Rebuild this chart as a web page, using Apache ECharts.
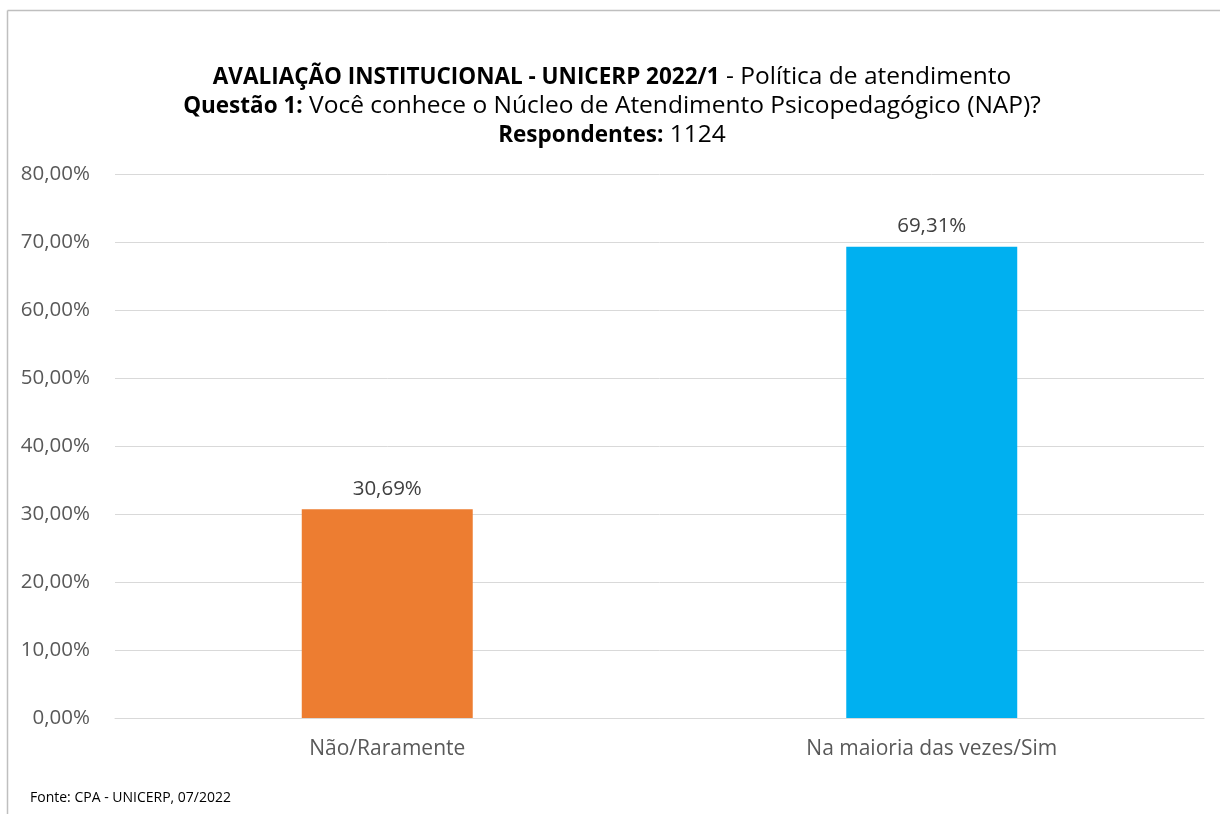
<!DOCTYPE html>
<html><head><meta charset="utf-8">
<script src="https://cdn.jsdelivr.net/npm/echarts@6/dist/echarts.min.js"></script>
<style>html,body{margin:0;padding:0;background:#fff}#c{width:1220px;height:814px}</style>
</head><body><div id="c"></div>
<script>
const categories = ['Não/Raramente', 'Na maioria das vezes/Sim'];
const values = [30.69, 69.31];
const barColors = ['#ED7D31', '#00B0F0'];
const yTicks = [0, 10, 20, 30, 40, 50, 60, 70, 80];

const FONT = '"Open Sans", sans-serif';
const fmt = v => v.toFixed(2).replace('.', ',') + '%';

const chart = echarts.init(document.getElementById('c'), null, {renderer: 'canvas'});
chart.setOption({
  animation: false,
  backgroundColor: '#ffffff',
  grid: {left: 115, right: 16, top: 174, bottom: 96, containLabel: false},
  xAxis: {
    type: 'category',
    data: categories,
    axisLine: {show: true, lineStyle: {color: '#d9d9d9', width: 1}},
    axisTick: {show: false},
    axisLabel: {color: '#595959', fontSize: 21, fontFamily: FONT, margin: 21}
  },
  yAxis: {
    type: 'value',
    min: yTicks[0],
    max: yTicks[yTicks.length - 1],
    interval: 10,
    axisLine: {show: false},
    axisTick: {show: false},
    splitLine: {lineStyle: {color: '#d9d9d9', width: 1}},
    axisLabel: {color: '#595959', fontSize: 20.5, fontFamily: FONT, margin: 25, formatter: v => fmt(v)}
  },
  series: [{
    type: 'bar',
    data: values.map((v, i) => ({value: v, itemStyle: {color: barColors[i]}})),
    barWidth: '31.4%',
    label: {
      show: true,
      position: 'top',
      distance: 10,
      color: '#404040',
      fontSize: 20.5,
      fontFamily: FONT,
      formatter: p => fmt(p.value)
    }
  }],
  graphic: [
    {type: 'line', shape: {x1: 7.5, y1: 10.5, x2: 1220, y2: 10.5}, style: {stroke: '#bfbfbf', lineWidth: 1.5}},
    {type: 'line', shape: {x1: 7.5, y1: 10.5, x2: 7.5, y2: 814}, style: {stroke: '#bfbfbf', lineWidth: 1.5}},
    {
      type: 'text', x: 612, y: 63,
      style: {
        text: '{b|AVALIAÇÃO INSTITUCIONAL - UNICERP 2022/1}{n| - Política de atendimento}\n{b|Questão 1:}{n| Você conhece o Núcleo de Atendimento Psicopedagógico (NAP)?}\n{b|Respondentes:}{n| 1124}',
        align: 'center',
        verticalAlign: 'top',
        font: '24px ' + FONT,
        fill: '#000',
        lineHeight: 29,
        rich: {
          b: {fontFamily: FONT, fontSize: 22.5, fontWeight: 'bold', fill: '#000', lineHeight: 29},
          n: {fontFamily: FONT, fontSize: 24.5, fontWeight: 'normal', fill: '#000', lineHeight: 29}
        }
      }
    },
    {type: 'text', x: 30, y: 791, style: {text: 'Fonte: CPA - UNICERP, 07/2022', fill: '#000', font: '14px ' + FONT}}
  ]
});
</script></body></html>
